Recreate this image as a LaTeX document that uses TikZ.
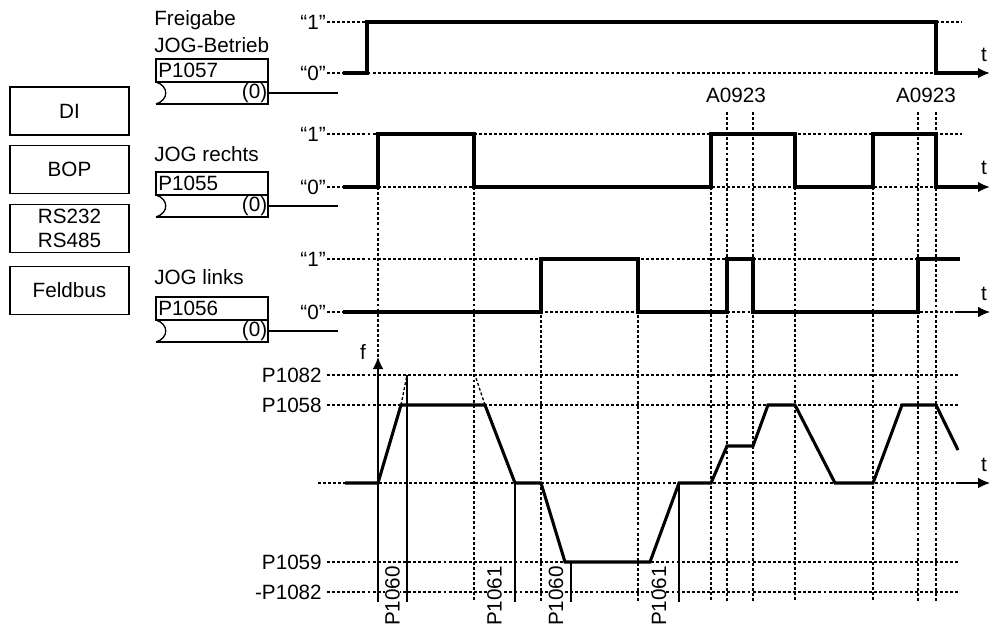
\documentclass[tikz,border=0pt]{standalone}
\usepackage{fontspec}
\setmainfont{Liberation Sans}
\usetikzlibrary{arrows.meta}
\begin{document}
\begin{tikzpicture}[x=0.75pt,y=-0.75pt,
  every node/.style={font=\fontsize{15.5}{19}\selectfont, inner sep=0pt},
  sig/.style={line width=2.3pt, line join=miter},
  thinl/.style={line width=1pt},
  dotl/.style={line width=1pt, dash pattern=on 2.2pt off 1.6pt},
  arr/.style={-{Latex[length=9pt,width=8pt]}},
  srcbox/.style={draw, line width=1pt, minimum width=89.25pt, minimum height=36pt, align=center},
  lbl/.style={anchor=west},
  lvl/.style={anchor=east},
  rot/.style={rotate=90, fill=white, inner xsep=1pt, inner ysep=0pt}]
\useasboundingbox (0,0) rectangle (992,628);

% source boxes
\node[srcbox] (di)  at (69.5,111)   {DI};
\node[srcbox] (bop) at (69.5,169.5) {BOP};
\node[srcbox] (rs)  at (69.5,228.5) {RS232\\[-1pt]RS485};
\node[srcbox] (fb)  at (69.5,290.5) {Feldbus};

% signal titles
\node[lbl] (t1a) at (154,20)  {Freigabe};
\node[lbl] (t1b) at (154,45)  {JOG-Betrieb};
\node[lbl] (t2)  at (154,154) {JOG rechts};
\node[lbl] (t3)  at (154,277) {JOG links};

% parameter boxes
\foreach \p/\y in {P1057/59, P1055/172, P1056/297}{
  \draw[thinl] (156,\y) rectangle (268,{\y+23});
  \draw[thinl] (156,{\y+45}) -- (268,{\y+45}) -- (268,{\y+23});
  \draw[thinl] (156,{\y+23}) .. controls (169,{\y+27}) and (169,{\y+41}) .. (156,{\y+45});
  \node[anchor=west] (n\p) at (158,{\y+11.5}) {\p};
  \node[anchor=east] (z\p) at (267.5,{\y+34}) {(0)};
  \draw[thinl] (z\p.east) -- (338,{\y+34});
}

% level labels for binary signals
\foreach \y/\t [count=\i] in {22/1, 73/0, 134/1, 187/0, 259/1, 312/0}{
  \node[lvl] (q\i) at (326,\y) {“\t”};
}

% dotted horizontal levels
\draw[dotl] (327,22) -- (367,22);
\draw[dotl] (936,22) -- (962,22);
\draw[dotl] (327,73) -- (936,73);
\draw[dotl] (327,134) -- (962,134);
\draw[dotl] (327,187) -- (962,187);
\draw[dotl] (327,259) -- (960,259);
\draw[dotl] (327,312) -- (960,312);
\draw[dotl] (327,375) -- (960,375);
\draw[dotl] (327,405) -- (960,405);
\draw[dotl] (318,483) -- (960,483);
\draw[dotl] (327,562) -- (960,562);
\draw[dotl] (327,592) -- (960,592);

% dotted vertical time markers
\draw[dotl] (378,187) -- (378,358);
\foreach \x/\y in {474/187, 541/259, 638/259, 711/187, 795/187, 873/187, 727/112, 753/112, 918/112, 936/112}{
  \draw[dotl] (\x,\y) -- (\x,602);
}

% A0923 labels
\node (a1) at (736,95) {A0923};
\node (a2) at (926,95) {A0923};

% binary signals
\draw[sig,arr] (343,73) -| (367,22) -| (936,73) -- (990,73);
\draw[sig,arr] (343,187) -| (378,134) -| (474,187) -| (711,134) -| (795,187) -| (873,134) -| (936,187) -- (990,187);
\draw[sig] (343,312) -| (541,259) -| (638,312) -| (727,259) -| (753,312) -| (918,259) -- (960,259);
\draw[thinl,arr] (956,312) -- (990,312);

% t labels
\node (tt1) at (984,55) {t};
\node (tt2) at (984,168) {t};
\node (tt3) at (984,294) {t};
\node (tt4) at (984,465) {t};

% frequency axis
\draw[thinl,arr] (378,602) -- (378,357);
\node (f) at (363,352) {f};
\draw[thinl,arr] (956,483) -- (990,483);

% frequency level labels
\node[lvl] (l1) at (322,375) {P1082};
\node[lvl] (l2) at (322,405) {P1058};
\node[lvl] (l3) at (322,562) {P1059};
\node[lvl] (l4) at (322,592) {-P1082};

% ramp extensions
\draw[dotl] (401,405) -- (407,375);
\draw[dotl] (485,405) -- (475,375);

% ramp time markers
\draw[thinl] (407,375) -- (407,602);
\draw[thinl] (515,483) -- (515,602);
\draw[thinl] (571,562) -- (571,602);
\draw[thinl] (679,483) -- (679,602);

% frequency curve
\draw[sig] (345,483) -- (378,483) -- (401,405) -- (485,405) -- (515,483) -- (541,483)
  -- (565,562) -- (650,562) -- (679,483) -- (711,483) -- (727,446) -- (753,446)
  -- (768,405) -- (795,405) -- (835,483) -- (873,483) -- (902,405) -- (936,405) -- (958,450);

% ramp parameter labels
\node[rot] (r1) at (392.5,596) {P1060};
\node[rot] (r2) at (494.5,596) {P1061};
\node[rot] (r3) at (556,596) {P1060};
\node[rot] (r4) at (659,596) {P1061};
\end{tikzpicture}
\end{document}
